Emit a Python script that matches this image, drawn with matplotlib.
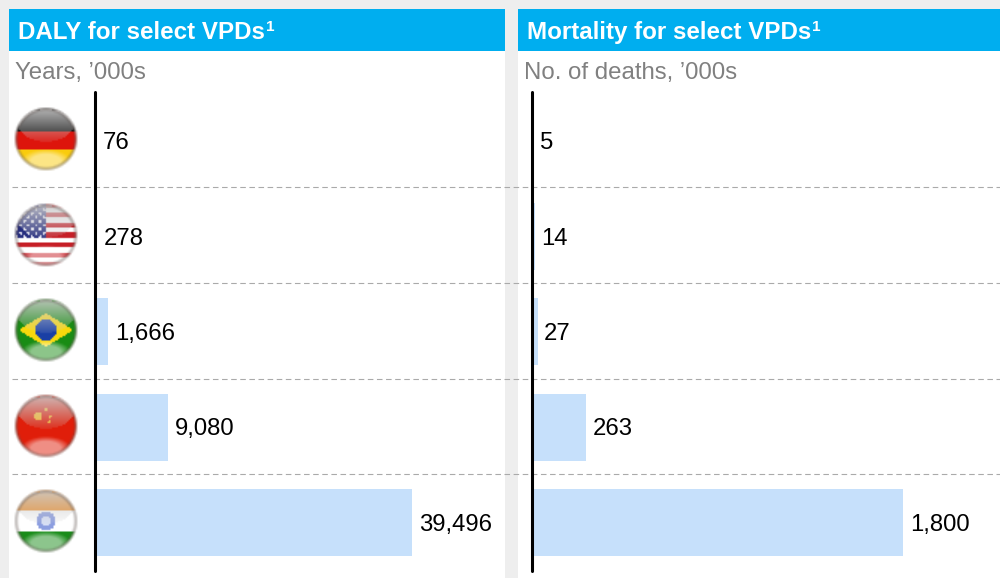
import numpy as np
import matplotlib
matplotlib.use("Agg")
import matplotlib.pyplot as plt
from matplotlib.patches import Rectangle

plt.rcParams["font.family"] = ["Liberation Sans", "DejaVu Sans"]

countries = ["Germany", "USA", "Brazil", "China", "India"]
daly_values = [76, 278, 1666, 9080, 39496]
mortality_values = [5, 14, 27, 263, 1800]
daly_labels = ["76", "278", "1,666", "9,080", "39,496"]
mortality_labels = ["5", "14", "27", "263", "1,800"]

W, H = 1000, 578
BG = "#eeeeee"
HEADER = "#00aeef"
BAR = "#c6e0fb"
ROW_TOP = 141.0
ROW_STEP = 95.4


def flag_base(name, u, v):
    # u, v run -1..1, v down
    img = np.ones(u.shape + (3,))
    if name == "Germany":
        img[v < -0.25] = (0.05, 0.05, 0.05)
        img[(v >= -0.25) & (v < 0.33)] = (0.87, 0.08, 0.05)
        img[v >= 0.33] = (0.98, 0.80, 0.05)
    elif name == "USA":
        stripes = np.floor((v + 1) * 6.5).astype(int) % 2 == 0
        img[stripes] = (0.78, 0.12, 0.15)
        canton = (u < 0.0) & (v < 0.08)
        img[canton] = (0.15, 0.18, 0.50)
        dots = canton & (np.sin(u * 26) * np.sin(v * 26) > 0.45)
        img[dots] = (0.92, 0.92, 0.97)
    elif name == "Brazil":
        img[:] = (0.10, 0.55, 0.08)
        img[np.abs(u) / 0.85 + np.abs(v) / 0.52 < 1] = (0.98, 0.85, 0.05)
        img[u ** 2 + v ** 2 < 0.33 ** 2] = (0.10, 0.25, 0.65)
    elif name == "China":
        img[:] = (0.88, 0.12, 0.04)
        for cx, cy, r in [(-0.25, -0.3, 0.13), (0.0, -0.5, 0.05), (0.13, -0.3, 0.05), (0.1, -0.12, 0.05)]:
            img[(u - cx) ** 2 + (v - cy) ** 2 < r ** 2] = (0.97, 0.72, 0.15)
    elif name == "India":
        img[v < -0.33] = (0.93, 0.55, 0.15)
        img[v >= 0.33] = (0.10, 0.55, 0.10)
        rad = np.sqrt(u ** 2 + v ** 2)
        img[rad < 0.3] = (0.55, 0.62, 0.88)
        img[rad < 0.14] = (0.85, 0.88, 0.97)
    return img


def flag_image(name, n=44):
    v, u = np.mgrid[-1:1:n * 1j, -1:1:n * 1j]
    r = np.sqrt(u ** 2 + v ** 2)
    img = flag_base(name, u, v)
    # gloss at the top, fading downwards
    inside = np.sqrt((u / 0.84) ** 2 + ((v + 0.42) / 0.5) ** 2) < 1
    gloss = np.where(inside, np.clip(0.85 - (v + 0.9) * 0.75, 0.08, 0.85), 0)[..., None]
    img = img * (1 - gloss) + 0.8 * gloss
    # softer glow at the bottom
    glow = np.clip(1 - np.sqrt((u / 0.78) ** 2 + ((v - 0.7) / 0.38) ** 2), 0, 1)
    glow = np.clip(glow * 1.2, 0, 0.5)[..., None]
    img = img * (1 - glow) + glow
    # dark ring
    ring = np.clip((r - 0.84) / 0.12, 0, 1)[..., None] * 0.6
    img = img * (1 - ring) + np.array((0.35, 0.3, 0.28)) * ring
    alpha = np.clip((1 - r) / 0.1, 0, 1)
    return np.dstack([img, alpha])


def panel_axes(x0, x1, y0=92, y1=571):
    return fig.add_axes([x0 / W, 1 - y1 / H, (x1 - x0) / W, (y1 - y0) / H])


def draw_bars(ax, values, labels, px_per_unit, x0, x1):
    y = np.arange(len(values))
    ax.patch.set_alpha(0)
    ax.barh(y, values, height=67 / ROW_STEP, color=BAR, linewidth=0, zorder=1)
    ax.set_xlim(0, (x1 - x0) / px_per_unit)
    ax.set_ylim((571 - ROW_TOP) / ROW_STEP, (92 - ROW_TOP) / ROW_STEP)
    for val, yy, lab in zip(values, y, labels):
        ax.annotate(lab, (val, yy), xytext=(4.8, -1.6), textcoords="offset points",
                    va="center", ha="left", fontsize=17.2, color="black")
    for name, s in ax.spines.items():
        s.set_visible(name == "left")
    ax.spines["left"].set_linewidth(2.2)
    ax.spines["left"].set_capstyle("round")
    ax.spines["left"].set_color("black")
    ax.spines["left"].set_zorder(3)
    ax.set_xticks([])
    ax.set_yticks([])


fig = plt.figure(figsize=(W / 100, H / 100), dpi=100, facecolor=BG)

# page furniture in pixel coordinates
bg = fig.add_axes([0, 0, 1, 1])
bg.set_axis_off()
for x0, x1, title, sub in [(9, 505, "DALY for select VPDs", "Years, ’000s"),
                           (518, 1000, "Mortality for select VPDs", "No. of deaths, ’000s")]:
    bg.add_patch(Rectangle((x0, 51), x1 - x0, H - 51, fc="white", ec="none"))
    bg.add_patch(Rectangle((x0, 9), x1 - x0, 42, fc=HEADER, ec="none"))
    t = bg.text(x0 + 9, 32.7, title, color="white", fontsize=17.4, fontweight="bold", va="center", ha="left")
    bg.annotate("1", xy=(1, 1), xycoords=t, xytext=(0.5, 1), textcoords="offset points",
                color="white", fontsize=11, fontweight="bold", va="top", ha="left")
    bg.text(x0 + 6.3, 72.5, sub, color="#808080", fontsize=17.3, va="center", ha="left")

for yy in [187, 283, 379, 474]:
    bg.plot([12, 1000], [yy, yy], color="#aaaaaa", lw=0.8, dashes=(5, 3.2))

for i, name in enumerate(countries):
    cy = ROW_TOP - 1.5 + ROW_STEP * i
    bg.imshow(flag_image(name), extent=(13, 79, cy + 33, cy - 33), aspect="auto",
              interpolation="bilinear", zorder=2)

bg.set_xlim(0, W)
bg.set_ylim(H, 0)

draw_bars(panel_axes(95, 505), daly_values, daly_labels, 0.00803, 95, 505)
draw_bars(panel_axes(532, 1000), mortality_values, mortality_labels, 0.2061, 532, 1000)

fig.savefig("out.png", dpi=100, facecolor=BG)
